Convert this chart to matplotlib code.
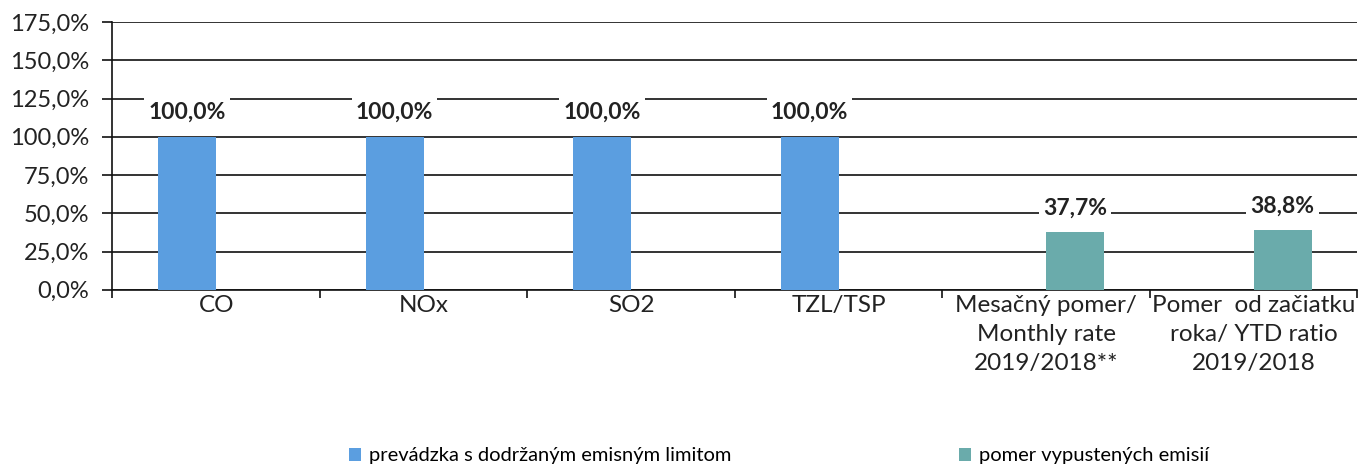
import matplotlib.pyplot as plt
import numpy as np
from matplotlib.ticker import FuncFormatter, MultipleLocator

plt.rcParams['font.family'] = ['Lato', 'DejaVu Sans']

# --- data ---
categories = ["CO", "NOx", "SO2", "TZL/TSP",
              "Mesačný pomer/\nMonthly rate\n2019/2018**",
              "Pomer  od začiatku\nroka/ YTD ratio\n2019/2018"]
limit_vals = [100.0, 100.0, 100.0, 100.0, None, None]
ratio_vals = [None, None, None, None, 37.7, 38.8]
series_names = ["prevádzka s dodržaným emisným limitom", "pomer vypustených emisií"]

blue = "#5b9ee0"
teal = "#6aabab"

fig = plt.figure(figsize=(13.71, 4.69), dpi=100)
ax = fig.add_axes([0.082, 0.382, 0.908, 0.571])

x = np.arange(len(categories))
w = 0.28

def fmt(v):
    return f"{v:.1f}".replace(".", ",") + "%"

bars1 = ax.bar(x[:4] - w / 2, limit_vals[:4], w, color=blue, label=series_names[0], zorder=3)
bars2 = ax.bar(x[4:] + w / 2, ratio_vals[4:], w, color=teal, label=series_names[1], zorder=3)

for bars in (bars1, bars2):
    for b in bars:
        h = b.get_height()
        ax.text(b.get_x() + b.get_width() / 2, h + 9, fmt(h), ha="center", va="bottom",
                fontsize=16.5, fontweight="bold", color="#222222", zorder=4,
                bbox=dict(facecolor="white", edgecolor="none", pad=3))

ax.set_xlim(-0.5, len(categories) - 0.5)
ax.set_ylim(0, 175)
ax.yaxis.set_major_locator(MultipleLocator(25))
ax.yaxis.set_major_formatter(FuncFormatter(lambda v, p: fmt(v)))
ax.grid(axis="y", color="#111111", linewidth=1.2, zorder=0)

ax.set_xticks(x)
ax.set_xticklabels(categories, fontsize=17.5, color="#222222", linespacing=1.45)
ax.tick_params(axis="x", length=0, pad=4)
ax.set_xticks(np.arange(len(categories) + 1) - 0.5, minor=True)
ax.tick_params(axis="x", which="minor", length=6, width=1.2, color="#111111", direction="out")
ax.tick_params(axis="y", labelsize=17, labelcolor="#222222", length=7, width=1.2,
               color="#111111", pad=10)

for s in ("top", "right"):
    ax.spines[s].set_visible(False)
ax.spines["left"].set_color("#111111")
ax.spines["left"].set_linewidth(1.2)
ax.spines["bottom"].set_color("#111111")
ax.spines["bottom"].set_linewidth(1.2)

fig.legend(handles=[bars1, bars2], labels=series_names, loc="center", ncol=2,
           bbox_to_anchor=(0.568, 0.028), frameon=False, fontsize=14.5,
           handlelength=0.6, handleheight=0.6, columnspacing=11.3, handletextpad=0.4)

fig.savefig("out.png", dpi=100)
